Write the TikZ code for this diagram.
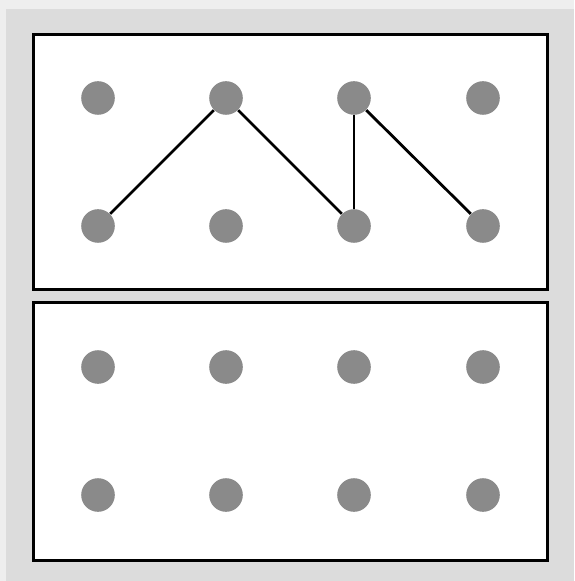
\documentclass[tikz,border=0pt]{standalone}
\usepackage{xcolor}
\usepackage{tikz}
\usetikzlibrary{positioning}
\definecolor{pagegrey}{HTML}{DCDCDC}
\definecolor{edgegrey}{HTML}{EEEEEE}
\definecolor{pingrey}{HTML}{8A8A8A}
\tikzset{%
  panel/.style={rectangle,draw=black,fill=white,line width=1.5pt}
}
\tikzset{%
  pin/.style={circle,fill=pingrey,inner sep=0pt,minimum size=16.8pt}
}
\tikzset{%
  band/.style={line width=1.4pt,black}
}

\begin{document}
\begin{tikzpicture}[x=0.5pt,y=-0.5pt]
    \useasboundingbox (0,0) rectangle (574,581);
    \fill[pagegrey] (0,0) rectangle (574,581);
    \fill[edgegrey] (0,0) rectangle (574,9);
    \fill[edgegrey] (0,0) rectangle (6,581);

    \draw[panel] (33,35) rectangle (547,290);
    \draw[panel] (33,303) rectangle (547,560);

    % top board
    \foreach \c/\x in {1/98,2/226,3/354,4/483}{
        \node[pin](a\c) at (\x,98){};
        \node[pin](b\c) at (\x,226){};
    }
    % bottom board
    \foreach \c/\x in {1/98,2/226,3/354,4/483}{
        \node[pin](c\c) at (\x,367){};
        \node[pin](d\c) at (\x,495){};
    }

    \draw[band] (b1) -- (a2);
    \draw[band] (a2) -- (b3);
    \draw[band] (b3) -- (a3);
    \draw[band] (a3) -- (b4);
\end{tikzpicture}
\end{document}
